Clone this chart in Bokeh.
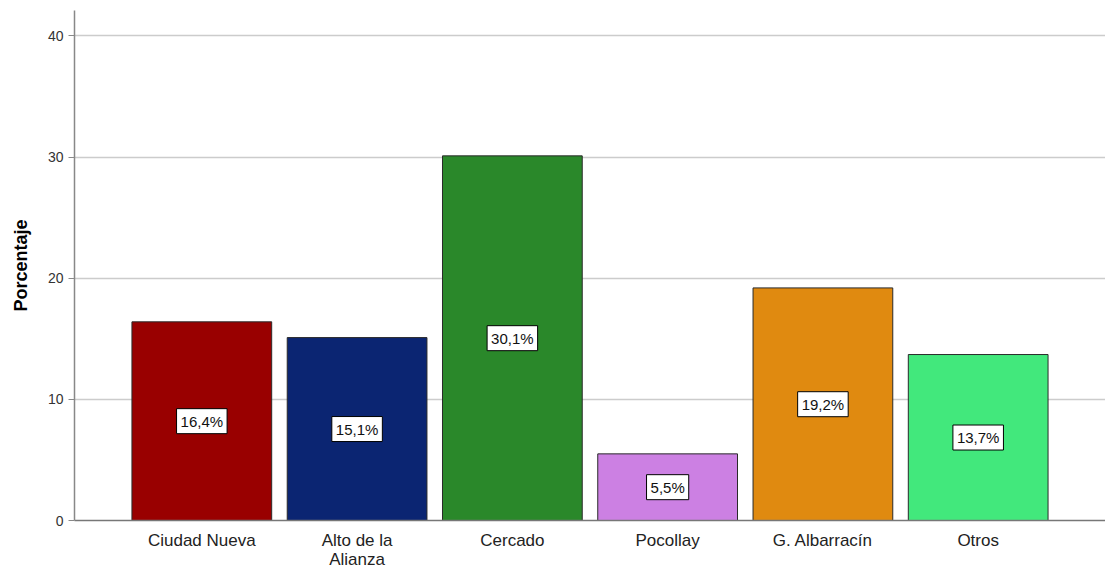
from bokeh.plotting import figure
from bokeh.models import ColumnDataSource, FactorRange, Range1d, FixedTicker
from bokeh.core.properties import value
from bokeh.embed import file_html
from bokeh.resources import INLINE

categories = ["Ciudad Nueva", "Alto de la\nAlianza", "Cercado", "Pocollay", "G. Albarracín", "Otros"]
values = [16.4, 15.1, 30.1, 5.5, 19.2, 13.7]
labels = ["16,4%", "15,1%", "30,1%", "5,5%", "19,2%", "13,7%"]
colors = ["#990000", "#0b2572", "#2a882a", "#cc80e3", "#e08a10", "#42e87c"]
y_ticks = [0, 10, 20, 30, 40]

src = ColumnDataSource(dict(cat=categories, val=values, half=[v / 2 for v in values],
                            lab=labels, col=colors))

p = figure(width=1105, height=571, output_backend="svg", toolbar_location=None,
           x_range=FactorRange(*categories, range_padding=0.32, range_padding_units="absolute"),
           y_range=Range1d(0, 42.1))
p.min_border_left = 74
p.min_border_right = 0
p.min_border_top = 10
p.min_border_bottom = 45
p.outline_line_color = None

p.vbar(x="cat", top="val", width=0.9, source=src, fill_color="col",
       line_color="#2a2a2a", line_width=1)

p.text(x="cat", y="half", text="lab", source=src, text_align="center",
       text_baseline="middle", text_font=value("Liberation Sans"), text_font_size="15px",
       text_color="#111111", background_fill_color="white", border_line_color="black",
       border_line_width=1, padding=4)

p.xgrid.grid_line_color = None
p.ygrid.grid_line_color = "#cccccc"
p.ygrid.grid_line_width = 1.5
p.yaxis.ticker = FixedTicker(ticks=y_ticks)
p.yaxis.minor_tick_line_color = None
p.yaxis.major_tick_out = 6
p.yaxis.major_tick_in = 0
p.yaxis.major_tick_line_color = "#888888"
p.yaxis.axis_line_color = "#888888"
p.yaxis.axis_line_width = 1.5
p.yaxis.major_label_text_font = "Liberation Sans"
p.yaxis.major_label_text_font_size = "14px"
p.yaxis.major_label_text_color = "#333333"
p.yaxis.axis_label = "Porcentaje"
p.yaxis.axis_label_text_font = "Liberation Sans"
p.yaxis.axis_label_text_font_size = "18px"
p.yaxis.axis_label_text_font_style = "bold"
p.yaxis.axis_label_text_color = "#000000"
p.yaxis.axis_label_standoff = 14

p.xaxis.major_tick_line_color = None
p.xaxis.minor_tick_line_color = None
p.xaxis.major_tick_out = 0
p.xaxis.major_tick_in = 0
p.xaxis.axis_line_color = "#777777"
p.xaxis.axis_line_width = 1.5
p.xaxis.major_label_text_font = "Liberation Sans"
p.xaxis.major_label_text_font_size = "17px"
p.xaxis.major_label_text_color = "#222222"
p.xaxis.major_label_standoff = 10
p.xaxis.major_label_text_line_height = 1.0

open("out.html", "w").write(file_html(p, INLINE))
